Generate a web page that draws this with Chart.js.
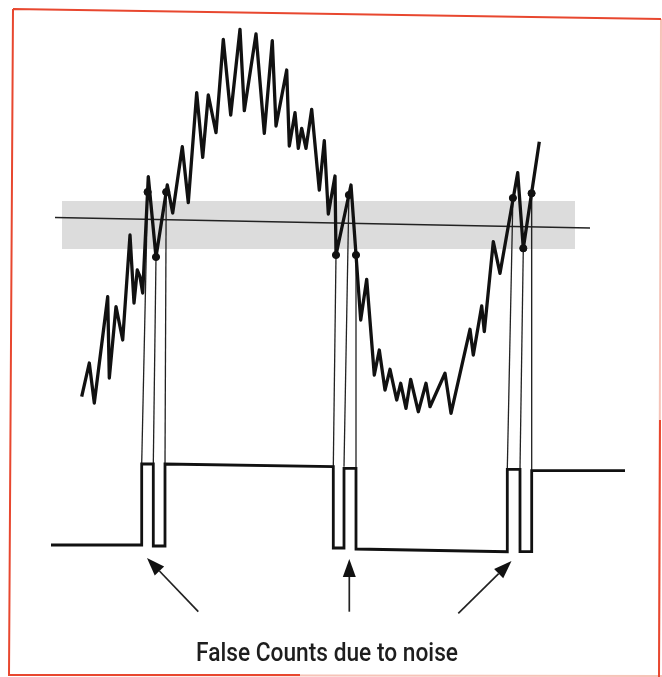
<!DOCTYPE html>
<html>
<head>
<meta charset="utf-8">
<script src="https://cdn.jsdelivr.net/npm/chart.js@4/dist/chart.umd.min.js"></script>
<style>
  html, body { margin: 0; padding: 0; background: #fff; }
  canvas { display: block; }
</style>
</head>
<body>
<canvas id="noiseChart" width="662" height="677"></canvas>
<script>
// noisy input signal (time, level) - level grows downward like the page
const signalT = [81.7, 89.3, 94.3, 107.7, 109.3, 116, 122.7, 130, 134, 137.3, 140, 142.7, 148.3, 156, 167.3, 172.7,
    182.3, 188.3, 196.7, 202.7, 208.3, 216, 223.3, 230.7, 240, 244.3, 256, 264.3, 272.3, 276, 286.7, 289.3, 295, 298.3,
    301.7, 306, 311.7, 319.3, 324.3, 328.3, 335, 336, 351, 360.7, 366.7, 374.3, 379.3, 385, 390, 396.7, 400.7, 406,
    410.7, 418.3, 426, 430, 445, 451, 470, 473.3, 481.7, 484.3, 493.3, 500, 517.7, 523.3, 539.3]
const signalV = [396.7, 363, 403, 296.7, 378, 306.7, 340, 235, 303, 270, 276.7, 293, 176.7, 257, 185, 213,
    146.7, 202.7, 92.7, 157.3, 95, 132.7, 39.3, 115, 29.3, 110.7, 34, 133.3, 40.7, 126, 70, 146, 112.7, 148.3,
    128.3, 148.3, 109.3, 190, 140.7, 214, 176, 255, 185, 320, 279.3, 375, 350, 390, 369.3, 400, 383.3, 408.3,
    379.3, 411.7, 383.3, 406.7, 373.3, 413.3, 329.3, 355, 306, 331.7, 241.7, 273.3, 172.7, 248.3, 141.7]

// threshold line and hysteresis band
const thresholdT = [55, 590]
const thresholdV = [217.5, 228]
const bandT = [62, 575]
const bandV = [201, 249]

// points where the signal crosses the band edges
const crossT = [147.6, 156, 166.2, 336, 348.9, 356, 512.9, 523.3, 531.6]
const crossV = [192, 257, 192, 255, 195, 255, 198, 248.3, 193.3]

// comparator output (square wave)
const squareT = [51, 141.7, 141.7, 153.3, 153.3, 165, 165, 333.3, 333.3, 344, 344, 356, 356, 507.3, 507.3, 520, 520,
    531.7, 531.7, 625]
const squareV = [545, 545, 464, 464, 546, 546, 464, 466.7, 548, 548, 468.3, 468.3, 549, 551.7, 469.3, 469.3, 551.7,
    551.7, 470.7, 470.7]
// edge each crossing drops onto
const edgeT = [141.7, 153.3, 165, 333.3, 344, 356, 507.3, 520, 531.7]
const edgeV = [464, 464, 464, 466.7, 466.7, 468.3, 469.3, 469.3, 470.7]

// arrows: tail -> tip
const arrowTailT = [198.3, 349.3, 458.3]
const arrowTailV = [611.7, 611.7, 613.3]
const arrowTipT = [147, 349.3, 511.5]
const arrowTipV = [558, 559, 561]

const captionText = 'False Counts due to noise'

const toPoints = (ts, vs) => ts.map((t, i) => ({x: t, y: vs[i]}))

const guideSets = crossT.map((t, i) => ({
    data: [{x: t, y: crossV[i]}, {x: edgeT[i], y: edgeV[i]}],
    borderColor: '#222',
    borderWidth: 1.3,
    pointRadius: 0,
    showLine: true,
    order: 3
}))

const decorPlugin = {
    id: 'decor',
    beforeDatasetsDraw(chart) {
        const {ctx, scales: {x, y}} = chart
        ctx.save()
        ctx.fillStyle = '#dcdcdc'
        ctx.fillRect(x.getPixelForValue(bandT[0]), y.getPixelForValue(bandV[0]),
            x.getPixelForValue(bandT[1]) - x.getPixelForValue(bandT[0]),
            y.getPixelForValue(bandV[1]) - y.getPixelForValue(bandV[0]))
        ctx.restore()
    },
    afterDraw(chart) {
        const {ctx, scales: {x, y}} = chart
        ctx.save()
        // arrows
        ctx.strokeStyle = '#222'
        ctx.fillStyle = '#111'
        ctx.lineWidth = 1.7
        arrowTailT.forEach((t, i) => {
            const x0 = x.getPixelForValue(t), y0 = y.getPixelForValue(arrowTailV[i])
            const x1 = x.getPixelForValue(arrowTipT[i]), y1 = y.getPixelForValue(arrowTipV[i])
            const a = Math.atan2(y1 - y0, x1 - x0)
            const hl = 18, hw = 6.5
            const bx = x1 - hl * Math.cos(a), by = y1 - hl * Math.sin(a)
            ctx.beginPath()
            ctx.moveTo(x0, y0)
            ctx.lineTo(bx, by)
            ctx.stroke()
            ctx.beginPath()
            ctx.moveTo(x1, y1)
            ctx.lineTo(bx + hw * Math.sin(a), by - hw * Math.cos(a))
            ctx.lineTo(bx - hw * Math.sin(a), by + hw * Math.cos(a))
            ctx.closePath()
            ctx.fill()
        })
        // caption
        ctx.fillStyle = '#1e1e1e'
        ctx.font = '500 26px "Liberation Sans Narrow", "Roboto", sans-serif'
        ctx.textBaseline = 'alphabetic'
        const w = ctx.measureText(captionText).width
        const target = 262
        ctx.translate(196, 661)
        ctx.scale(target / w, 1)
        ctx.fillText(captionText, 0, 0)
        ctx.restore()
        // red frame of the scan
        ctx.save()
        ctx.lineWidth = 2
        ctx.strokeStyle = '#f6c3b8'
        ctx.beginPath()
        ctx.moveTo(661, 19)
        ctx.lineTo(659, 677)
        ctx.moveTo(9, 675)
        ctx.lineTo(662, 676)
        ctx.stroke()
        ctx.strokeStyle = '#e8472f'
        ctx.beginPath()
        ctx.moveTo(13, 9)
        ctx.lineTo(661, 19)
        ctx.moveTo(13, 9)
        ctx.lineTo(9, 675)
        ctx.lineTo(300, 675)
        ctx.moveTo(660, 420)
        ctx.lineTo(659, 677)
        ctx.stroke()
        ctx.restore()
    }
}

const ctx = document.getElementById('noiseChart').getContext('2d')
const chart = new Chart(ctx, {
    type: 'scatter',
    data: {
        datasets: [
            {
                data: toPoints(thresholdT, thresholdV),
                borderColor: '#222',
                borderWidth: 1.6,
                pointRadius: 0,
                showLine: true,
                order: 4
            },
            ...guideSets,
            {
                data: toPoints(squareT, squareV),
                borderColor: '#111',
                borderWidth: 2.8,
                pointRadius: 0,
                showLine: true,
                borderJoinStyle: 'miter',
                order: 2
            },
            {
                data: toPoints(signalT, signalV),
                borderColor: '#111',
                borderWidth: 3.3,
                pointRadius: 0,
                showLine: true,
                borderJoinStyle: 'round',
                order: 1
            },
            {
                data: toPoints(crossT, crossV),
                backgroundColor: '#111',
                borderColor: '#111',
                pointRadius: 3.6,
                showLine: false,
                order: 0
            }
        ]
    },
    options: {
        responsive: false,
        animation: false,
        layout: {padding: 0, autoPadding: false},
        plugins: {
            legend: {display: false},
            tooltip: {enabled: false}
        },
        scales: {
            x: {type: 'linear', min: 0, max: 662, display: false},
            y: {type: 'linear', min: 0, max: 677, reverse: true, display: false}
        }
    },
    plugins: [decorPlugin]
})
</script>
</body>
</html>
